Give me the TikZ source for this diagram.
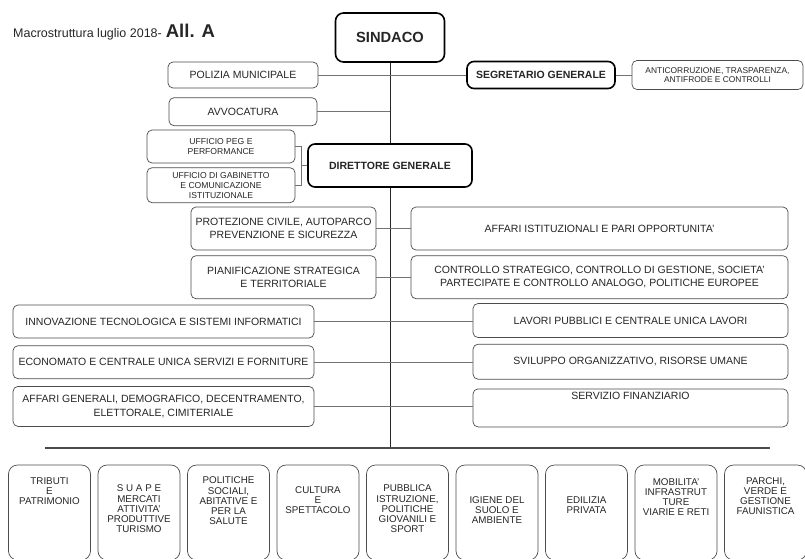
\documentclass[tikz,border=0pt]{standalone}
\usepackage{fontspec}
\setmainfont{Liberation Sans}
\usepackage{tikz}
\usetikzlibrary{positioning}

\begin{document}
\begin{tikzpicture}[x=1pt, y=-1pt, black!85]
	\tikzstyle{box}=[draw=black!70, line width=0.7pt, rounded corners=5pt,
		align=center, inner sep=2pt, fill=white,
		font=\fontsize{10.5}{12.5}\selectfont]
	\tikzstyle{small}=[box, font=\fontsize{8.6}{10}\selectfont]
	\tikzstyle{head}=[draw=black, line width=1.6pt, rounded corners=7pt,
		fill=white, font=\bfseries\fontsize{10.5}{12}\selectfont]
	\tikzstyle{unit}=[box, rounded corners=9pt,
		minimum width=82pt, minimum height=95pt]
	\tikzstyle{unittext}=[align=center, inner sep=0pt,
		font=\fontsize{9.8}{10.2}\selectfont]
	\tikzstyle{link}=[draw=black!55, line width=0.6pt]
	\useasboundingbox (0,0) rectangle (805,558);
	\clip (0,0) rectangle (805,558);
	% % Nodes
	% title
	\node[anchor=base west, inner sep=0pt] (title) at (13,37)
	{{\fontsize{12.5}{14}\selectfont Macrostruttura luglio 2018-}\hspace{4pt}%
	 {\fontsize{18.5}{20}\selectfont\bfseries All. A}};
	% top
	\node[head, rounded corners=8pt, minimum width=109pt, minimum height=49pt,
		  font=\bfseries\fontsize{14.7}{16}\selectfont]
	(sindaco) at (390,37.5) {SINDACO};
	\node[head, minimum width=148pt, minimum height=27pt]
	(segretario) at (541,75) {SEGRETARIO GENERALE};
	\node[small, minimum width=171pt, minimum height=29pt, font=\fontsize{8.4}{9.5}\selectfont]
	(anticorr) at (717.5,75)
	{
		ANTICORRUZIONE, TRASPARENZA, \\
		ANTIFRODE E CONTROLLI
	};
	\node[box, minimum width=150pt, minimum height=26pt]
	(polizia) at (243,75) {POLIZIA MUNICIPALE};
	\node[box, below=9pt of polizia, minimum width=148pt, minimum height=28pt]
	(avvocatura) {AVVOCATURA};
	% direttore generale
	\node[head, minimum width=164pt, minimum height=43pt]
	(dg) at (390,165.5) {DIRETTORE GENERALE};
	\node[small, minimum width=148pt, minimum height=33pt]
	(peg) at (221,146.5)
	{
		UFFICIO PEG E \\
		PERFORMANCE
	};
	\node[small, below=4pt of peg, minimum width=148pt, minimum height=35pt]
	(gabinetto)
	{
		UFFICIO DI GABINETTO \\
		E COMUNICAZIONE \\
		ISTITUZIONALE
	};
	\coordinate (brk) at (301,165.5);
	% left column
	\node[box, minimum width=185pt, minimum height=43pt]
	(protezione) at (283.5,228.5)
	{
		PROTEZIONE CIVILE, AUTOPARCO \\
		PREVENZIONE E SICUREZZA
	};
	\node[box, below=5pt of protezione, minimum width=185pt, minimum height=43pt]
	(pianificazione)
	{
		PIANIFICAZIONE STRATEGICA \\
		E TERRITORIALE
	};
	\node[box, minimum width=301pt, minimum height=33pt]
	(innovazione) at (163.5,321.5)
	{INNOVAZIONE TECNOLOGICA E SISTEMI INFORMATICI};
	\node[box, below=7pt of innovazione, minimum width=301pt, minimum height=33pt]
	(economato)
	{ECONOMATO E CENTRALE UNICA SERVIZI E FORNITURE};
	\node[box, below=7pt of economato, minimum width=301pt, minimum height=40pt]
	(affarigen)
	{
		AFFARI GENERALI, DEMOGRAFICO, DECENTRAMENTO, \\[2pt]
		ELETTORALE, CIMITERIALE
	};
	% right column
	\node[box, minimum width=377pt, minimum height=43pt]
	(istituzionali) at (599.5,228.5)
	{AFFARI ISTITUZIONALI E PARI OPPORTUNITA'};
	\node[box, below=5pt of istituzionali, minimum width=377pt, minimum height=43pt]
	(controllo)
	{
		CONTROLLO STRATEGICO, CONTROLLO DI GESTIONE, SOCIETA' \\
		PARTECIPATE E CONTROLLO ANALOGO, POLITICHE EUROPEE
	};
	\node[box, minimum width=315pt, minimum height=34pt]
	(lavori) at (630.5,320.5)
	{LAVORI PUBBLICI E CENTRALE UNICA LAVORI};
	\node[box, below=6pt of lavori, minimum width=315pt, minimum height=35pt]
	(sviluppo)
	{SVILUPPO ORGANIZZATIVO, RISORSE UMANE};
	\node[box, below=9pt of sviluppo, minimum width=315pt, minimum height=38pt]
	(finanziario)
	{SERVIZIO FINANZIARIO \\[12pt] ~};
	% bar
	\coordinate (barl) at (45,448);
	\coordinate (barr) at (770,448);
	% units
	\node[unit] (tributi) at (49.5,512.5) {};
	\node[unittext] (tributi-t) at (49.5,491) {TRIBUTI \\ E \\ PATRIMONIO};
	\node[unit] (suap) at (139,512.5) {};
	\node[unittext] (suap-t) at (139,509)
	{S U A P E \\ MERCATI \\ ATTIVITA' \\ PRODUTTIVE \\ TURISMO};
	\node[unit] (sociali) at (228.5,512.5) {};
	\node[unittext] (sociali-t) at (228.5,501)
	{POLITICHE \\ SOCIALI, \\ ABITATIVE E \\ PER LA \\ SALUTE};
	\node[unit] (cultura) at (318,512.5) {};
	\node[unittext] (cultura-t) at (318,500) {CULTURA \\ E \\ SPETTACOLO};
	\node[unit] (istruzione) at (407.5,512.5) {};
	\node[unittext] (istruzione-t) at (407.5,509)
	{PUBBLICA \\ ISTRUZIONE, \\ POLITICHE \\ GIOVANILI E \\ SPORT};
	\node[unit] (igiene) at (497,512.5) {};
	\node[unittext] (igiene-t) at (497,510) {IGIENE DEL \\ SUOLO E \\ AMBIENTE};
	\node[unit] (edilizia) at (586.5,512.5) {};
	\node[unittext] (edilizia-t) at (586.5,505) {EDILIZIA \\ PRIVATA};
	\node[unit] (mobilita) at (676,512.5) {};
	\node[unittext] (mobilita-t) at (676,497)
	{MOBILITA' \\ INFRASTRUT \\ TURE \\ VIARIE E RETI};
	\node[unit] (parchi) at (765.5,512.5) {};
	\node[unittext] (parchi-t) at (765.5,496)
	{PARCHI, \\ VERDE E \\ GESTIONE \\ FAUNISTICA};
	% % Connectors
	\draw[link, draw=black!85] (sindaco) -- (dg);
	\draw[link, draw=black!85] (dg) -- (dg |- barl);
	\draw[link, draw=black!70, line width=1.2pt] (barl) -- (barr);
	\draw[link] (polizia.east) -- (polizia.east -| segretario.west);
	\draw[link] (segretario) -- (anticorr);
	\draw[link] (avvocatura.east) -- (avvocatura.east -| sindaco.south);
	\draw[link] (dg.west) -- (brk);
	\draw[link] (peg.east) -| (brk);
	\draw[link] (gabinetto.east) -| (brk);
	\draw[link] (protezione.east) -- (protezione.east -| istituzionali.west);
	\draw[link] (pianificazione.east) -- (pianificazione.east -| controllo.west);
	\draw[link] (innovazione.east) -- (innovazione.east -| lavori.west);
	\draw[link] (economato.east) -- (economato.east -| sviluppo.west);
	\draw[link] (affarigen.east) -- (affarigen.east -| finanziario.west);
\end{tikzpicture}
\end{document}
